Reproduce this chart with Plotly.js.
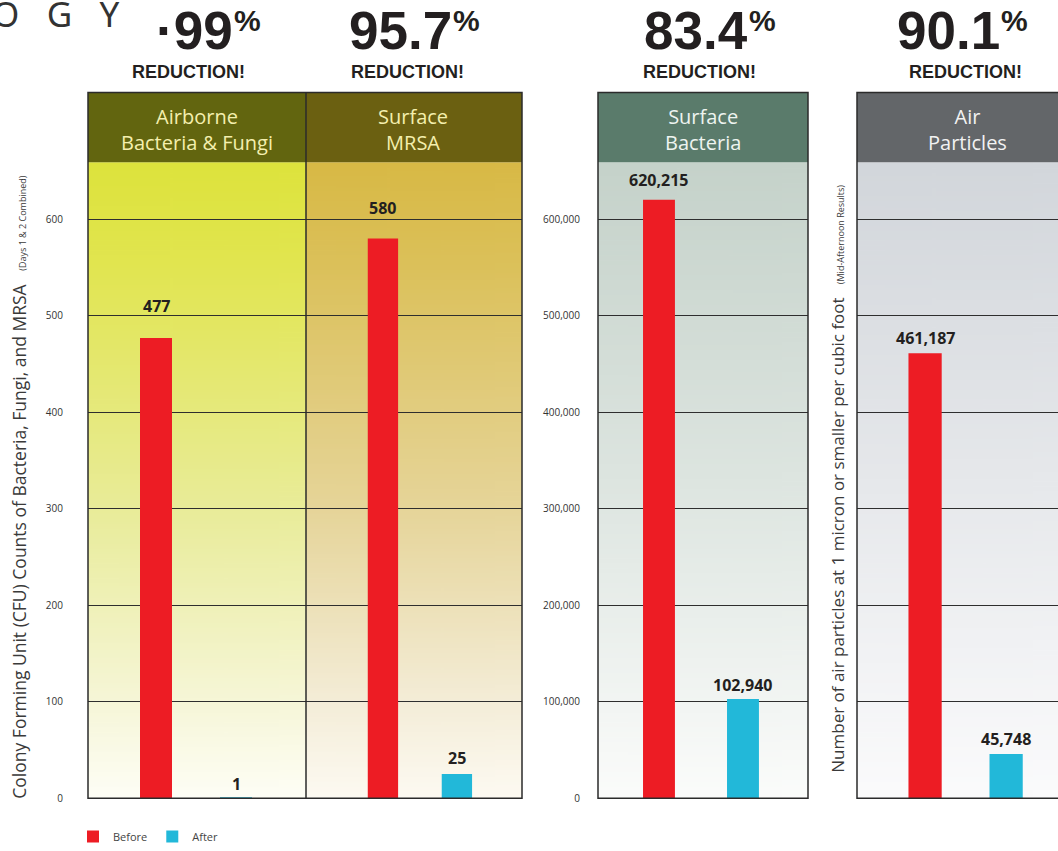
<!DOCTYPE html>
<html>
<head>
<meta charset="utf-8">
<script src="https://cdn.plot.ly/plotly-3.0.1.min.js"></script>
<style>html,body{margin:0;padding:0;background:#fff;}#chart{width:1058px;height:851px;}</style>
</head>
<body>
<div id="chart"></div>
<script>
// ---------- data ----------
const panelTitles = ["Airborne<br>Bacteria & Fungi", "Surface<br>MRSA", "Surface<br>Bacteria", "Air<br>Particles"];
const seriesNames = ["Before", "After"];
const beforeValues = [477, 580, 620215, 461187];
const afterValues = [1, 25, 102940, 45748];
const reductionNumbers = ["·99", "95.7", "83.4", "90.1"];
const reductionLabel = "REDUCTION!";
const leftAxisTitle = "Colony Forming Unit (CFU) Counts of Bacteria, Fungi, and MRSA";
const leftAxisNote = "(Days 1 & 2 Combined)";
const rightAxisTitle = "Number of air particles at 1 micron or smaller per cubic foot";
const rightAxisNote = "(Mid-Afternoon Results)";
const cornerText = "O\u00a0\u00a0\u00a0G\u00a0\u00a0\u00a0Y";
const tickValsSmall = [0, 100, 200, 300, 400, 500, 600];
const tickValsLarge = [0, 100000, 200000, 300000, 400000, 500000, 600000];

// ---------- geometry helpers (layout only) ----------
const W = 1058, H = 851;
const px = v => v / W;
const py = v => 1 - v / H;
const panelX = [[88, 306], [306, 522], [598, 808], [857, 1058]];
const headerTop = 93, plotTop = 163, plotBottom = 802;
const yDomain = [py(plotBottom), py(plotTop)];
const xRanges = [[-0.85, 1.875], [-1.04, 1.88], [-0.726, 1.774], [-0.84, 1.64]];
const barWidths = [0.4, 0.41, 0.38, 0.41];
const standoffs = [24, 0, 17, 0];
const yMaxSmall = 659, yMaxLarge = 659000;
const RED = "#ed1c24", CYAN = "#22b8d9";
const headerColors = ["#62650f", "#6b6011", "#5a7b6b", "#636669"];
const headerTextColors = ["#f4efae", "#f4efae", "#eef4f0", "#f2f2f2"];
const gradients = [
  [[0, "#dde33c"], [0.15, "#e1e54e"], [0.55, "#e9ec9a"], [0.85, "#f6f6d8"], [1, "#fefef6"]],
  [[0, "#d8b945"], [0.15, "#dbc058"], [0.55, "#e6d59a"], [0.85, "#f4edd8"], [1, "#fdfaf2"]],
  [[0, "#c5d2ca"], [0.5, "#dde5e0"], [1, "#fbfcfb"]],
  [[0, "#d2d6db"], [0.5, "#e6e8eb"], [1, "#fbfbfc"]]
];

function gradientURL(stops) {
  const c = document.createElement("canvas");
  c.width = 4; c.height = 256;
  const ctx = c.getContext("2d");
  const g = ctx.createLinearGradient(0, 0, 0, 256);
  stops.forEach(s => g.addColorStop(s[0], s[1]));
  ctx.fillStyle = g; ctx.fillRect(0, 0, 4, 256);
  return c.toDataURL();
}

const axName = i => (i === 0 ? "" : String(i + 1));
const traces = [];
const annotations = [];
const shapes = [];
const images = [];
const layout = {
  width: W, height: H,
  margin: {l: 0, r: 0, t: 0, b: 0},
  paper_bgcolor: "#ffffff",
  plot_bgcolor: "rgba(0,0,0,0)",
  barmode: "overlay",
  showlegend: true,
  legend: {
    orientation: "h", x: px(73), y: py(826), xanchor: "left", yanchor: "top",
    font: {family: "Open Sans, Noto Sans, sans-serif", size: 11, color: "#444"},
    bgcolor: "rgba(0,0,0,0)", itemclick: false, tracegroupgap: 0
  },
  font: {family: "Open Sans, Noto Sans, sans-serif"}
};

const vals = [beforeValues, afterValues];
const colors = [RED, CYAN];
const labelShift = [[32, 30, 20, 15], [13, 16, 14, 15]];

for (let i = 0; i < 4; i++) {
  const a = axName(i);
  const isLarge = i >= 2;
  layout["xaxis" + a] = {
    domain: [px(panelX[i][0]), px(panelX[i][1])],
    anchor: "y" + a,
    type: "category", categoryorder: "array", categoryarray: seriesNames,
    range: xRanges[i],
    showticklabels: false, showgrid: false, zeroline: false, showline: false, ticks: "",
    fixedrange: true
  };
  layout["yaxis" + a] = {
    domain: yDomain,
    anchor: "x" + a,
    range: [0, isLarge ? yMaxLarge : yMaxSmall],
    tickvals: isLarge ? tickValsLarge : tickValsSmall,
    tickformat: ",d",
    showticklabels: (i === 0 || i === 2),
    ticklabelstandoff: standoffs[i],
    tickfont: {family: "Open Sans, Noto Sans, sans-serif", size: 10, color: "#333"},
    showgrid: true, gridcolor: "#2e2e2e", gridwidth: 1.2,
    zeroline: false, showline: false, ticks: "",
    fixedrange: true
  };
  for (let s = 0; s < 2; s++) {
    traces.push({
      type: "bar",
      name: seriesNames[s],
      x: [seriesNames[s]],
      y: [vals[s][i]],
      width: barWidths[i],
      xaxis: "x" + a, yaxis: "y" + a,
      marker: {color: colors[s]},
      legendgroup: seriesNames[s],
      showlegend: i === 0,
      hoverinfo: "skip"
    });
    annotations.push({
      xref: "x" + a, yref: "y" + a,
      x: seriesNames[s], y: vals[s][i],
      text: "<b>" + vals[s][i].toLocaleString("en-US") + "</b>",
      showarrow: false, xanchor: "center", yanchor: "middle", yshift: labelShift[s][i],
      font: {family: "Open Sans, Noto Sans, sans-serif", size: 16, color: "#231f20"}
    });
  }
  images.push({
    source: gradientURL(gradients[i]),
    xref: "paper", yref: "paper",
    x: px(panelX[i][0]), y: py(plotTop),
    sizex: px(panelX[i][1]) - px(panelX[i][0]), sizey: py(plotTop) - py(plotBottom),
    sizing: "stretch", xanchor: "left", yanchor: "top", layer: "below"
  });
  shapes.push({
    type: "rect", xref: "paper", yref: "paper",
    x0: px(panelX[i][0]), x1: px(panelX[i][1]), y0: py(plotTop), y1: py(headerTop),
    fillcolor: headerColors[i], line: {width: 0}, layer: "below"
  });
}

const headerCenters = [197, 413, 703, 967];
const reductionCenters = [188, 407, 699, 965];
const digitRight = [233, 452, 748, 1000];
for (let i = 0; i < 4; i++) {
  annotations.push({
    xref: "paper", yref: "paper", x: px(headerCenters[i]), y: py(130),
    text: panelTitles[i], showarrow: false, xanchor: "center", yanchor: "middle",
    font: {family: "Open Sans, Noto Sans, sans-serif", size: 20, color: headerTextColors[i]}
  });
  annotations.push({
    xref: "paper", yref: "paper", x: px(digitRight[i] + 2), y: py(31),
    text: reductionNumbers[i], showarrow: false, xanchor: "right", yanchor: "middle",
    font: {family: "Liberation Sans, Arial, sans-serif", size: 53, weight: "bold", color: "#231f20"}
  });
  annotations.push({
    xref: "paper", yref: "paper", x: px(digitRight[i] - 1), y: py(21),
    text: "%", showarrow: false, xanchor: "left", yanchor: "middle",
    font: {family: "Liberation Sans, Arial, sans-serif", size: 30, weight: "bold", color: "#231f20"}
  });
  annotations.push({
    xref: "paper", yref: "paper", x: px(reductionCenters[i]), y: py(72),
    text: reductionLabel, showarrow: false, xanchor: "center", yanchor: "middle",
    font: {family: "Liberation Sans, Arial, sans-serif", size: 18, weight: "bold", color: "#231f20"}
  });
}

annotations.push({
  xref: "paper", yref: "paper", x: px(121), y: py(14),
  text: cornerText, showarrow: false, xanchor: "right", yanchor: "middle",
  font: {family: "Noto Sans, Open Sans, sans-serif", size: 35, color: "#333"}
});

annotations.push({
  xref: "paper", yref: "paper", x: px(19), y: py(490),
  text: leftAxisTitle + "\u00a0\u00a0\u00a0<span style='font-size:9px'>" + leftAxisNote + "</span>",
  textangle: -90, showarrow: false, xanchor: "center", yanchor: "middle",
  font: {family: "Open Sans, Noto Sans, sans-serif", size: 17.5, color: "#3a3a3a"}
});
annotations.push({
  xref: "paper", yref: "paper", x: px(838), y: py(481),
  text: rightAxisTitle + "\u00a0\u00a0\u00a0<span style='font-size:9px'>" + rightAxisNote + "</span>",
  textangle: -90, showarrow: false, xanchor: "center", yanchor: "middle",
  font: {family: "Open Sans, Noto Sans, sans-serif", size: 17, color: "#3a3a3a"}
});

const lineStyle = {color: "#2b2b2b", width: 1.5};
const rect = (x0, x1) => ({type: "rect", xref: "paper", yref: "paper", x0: px(x0), x1: px(x1), y0: py(plotBottom), y1: py(headerTop), line: lineStyle, fillcolor: "rgba(0,0,0,0)", layer: "above"});
shapes.push(rect(88, 522));
shapes.push({type: "line", xref: "paper", yref: "paper", x0: px(306), x1: px(306), y0: py(plotBottom), y1: py(headerTop), line: lineStyle, layer: "above"});
shapes.push(rect(598, 808));
shapes.push({type: "path", xref: "paper", yref: "paper",
  path: "M " + px(1060) + "," + py(headerTop) + " L " + px(857) + "," + py(headerTop) + " L " + px(857) + "," + py(plotBottom) + " L " + px(1060) + "," + py(plotBottom),
  line: lineStyle, layer: "above"});

layout.annotations = annotations;
layout.shapes = shapes;
layout.images = images;

Plotly.newPlot("chart", traces, layout, {displayModeBar: false, staticPlot: true});
</script>
</body>
</html>
